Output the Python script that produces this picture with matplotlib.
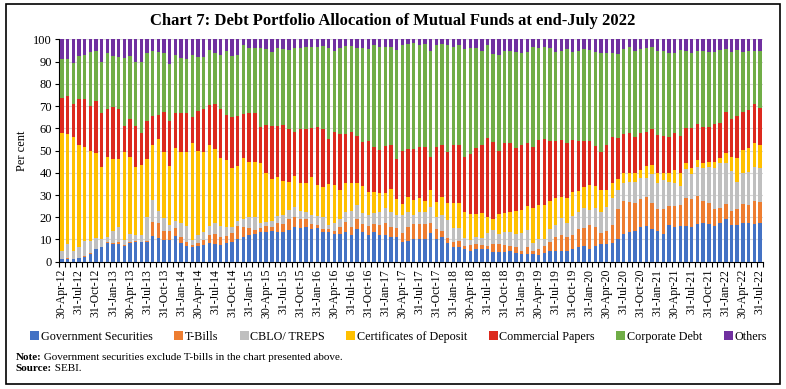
import numpy as np
import pandas as pd
import matplotlib
matplotlib.use("Agg")
import matplotlib.pyplot as plt
from matplotlib.patches import Rectangle

plt.rcParams['font.family'] = ['Liberation Serif', 'DejaVu Serif']

# month-end dates, Apr-2012 .. Jul-2022
dates = pd.date_range('2012-04-30', periods=124, freq='ME')
labels = [d.strftime('%d-%b-%y') for d in dates]

series_names = ['Government Securities', 'T-Bills', 'CBLO/ TREPS', 'Certificates of Deposit',
                'Commercial Papers', 'Corporate Debt', 'Others']
colors = ['#4472C4', '#ED7D31', '#BFBFBF', '#FFC000', '#DC2A1E', '#70AD47', '#7030A0']

# shares in per cent
gsec = [1.0, 1.0, 1.0, 1.5, 2.0, 3.5, 5.5, 6.5, 8.5, 8.0, 8.0, 7.0, 8.5, 9.0, 8.7, 9.0, 11.5, 10.5, 9.7, 9.7,
        11.4, 8.4, 6.9, 6.5, 6.9, 7.7, 8.3, 8.0, 7.5, 8.4, 8.7, 10.2, 11.3, 12.0, 12.5, 13.2, 13.2, 13.7, 13.5, 13.5,
        14.3, 15.5, 15.0, 15.5, 14.5, 15.0, 13.5, 13.5, 12.5, 12.5, 13.5, 12.0, 14.5, 13.5, 12.0, 13.5, 12.0, 12.0, 11.0, 11.0,
        9.0, 9.5, 10.0, 10.0, 10.0, 13.0, 10.0, 11.0, 8.5, 6.7, 6.5, 5.5, 5.0, 5.5, 5.5, 5.5, 4.5, 4.5, 4.5, 5.0,
        4.0, 3.5, 3.5, 3.5, 3.0, 4.0, 5.0, 5.0, 5.0, 5.0, 5.5, 6.5, 7.0, 5.5, 7.0, 8.0, 8.0, 8.5, 10.0, 12.5,
        13.5, 14.0, 15.5, 16.0, 14.5, 14.0, 12.5, 16.5, 15.5, 16.0, 16.0, 15.5, 17.0, 17.5, 17.0, 16.0, 17.5, 19.0, 16.5, 16.5,
        17.5, 17.5, 17.0, 17.5]
tbills = [0.3, 0.5, 0.3, 0.3, 0.5, 0.3, 0.3, 0.3, 0.5, 0.5, 0.7, 0.3, 0.5, 0.5, 0.3, 0.5, 6.5, 7.0, 4.3, 4.3,
          3.6, 2.6, 1.8, 1.0, 1.5, 2.2, 3.7, 4.5, 3.5, 3.3, 4.2, 5.7, 4.2, 3.0, 1.9, 1.8, 2.7, 1.8, 3.9, 3.5,
          4.9, 4.5, 4.0, 3.5, 2.5, 1.5, 1.0, 1.0, 1.5, 3.0, 4.5, 3.5, 4.5, 3.5, 4.0, 3.5, 4.5, 5.5, 4.5, 4.0,
          4.0, 6.0, 7.0, 7.0, 7.0, 4.5, 4.5, 3.0, 2.0, 2.0, 3.0, 1.5, 2.5, 2.5, 2.0, 1.5, 3.5, 3.5, 3.0, 2.0,
          2.5, 1.5, 3.0, 1.5, 2.5, 3.0, 4.0, 6.0, 7.0, 6.0, 6.5, 8.0, 8.0, 11.0, 8.5, 5.0, 6.0, 8.0, 13.5, 15.0,
          13.5, 12.5, 12.5, 13.0, 12.0, 9.5, 11.0, 8.5, 9.5, 9.5, 12.5, 12.5, 12.5, 10.0, 9.5, 7.5, 6.5, 7.0, 6.5, 7.0,
          8.5, 8.0, 10.5, 9.5]
cblo = [3.7, 6.5, 3.7, 4.7, 7.0, 5.7, 4.7, 3.2, 2.0, 5.5, 7.0, 2.4, 3.5, 2.5, 3.0, 10.5, 9.7, 5.3, 5.5, 2.5,
        3.5, 6.3, 7.2, 2.4, 3.6, 3.3, 3.9, 4.9, 4.9, 3.8, 2.6, 2.6, 3.7, 5.3, 5.9, 2.5, 1.8, 3.0, 3.3, 4.2,
        4.2, 4.7, 3.8, 3.5, 4.0, 4.0, 5.7, 2.0, 3.2, 3.5, 4.5, 7.3, 6.5, 4.7, 5.0, 5.0, 6.0, 6.5, 7.0, 6.0,
        8.0, 7.0, 4.0, 5.5, 5.5, 7.2, 5.5, 7.0, 8.2, 6.3, 5.5, 3.5, 2.2, 3.2, 3.0, 5.7, 6.2, 4.4, 6.0, 6.5,
        5.9, 8.0, 7.7, 3.5, 4.5, 3.0, 5.5, 5.5, 7.5, 6.2, 8.5, 8.0, 9.0, 6.7, 8.5, 9.5, 10.7, 12.0, 8.7, 8.0,
        9.0, 9.5, 9.5, 8.5, 12.9, 11.7, 13.2, 11.0, 10.5, 8.5, 13.0, 11.4, 13.2, 14.5, 15.9, 18.5, 20.2, 18.2, 17.9, 12.5,
        13.7, 15.0, 15.2, 15.0]
cds = [53.0, 49.3, 51.0, 46.0, 42.0, 40.3, 38.5, 32.7, 36.0, 32.0, 30.3, 39.8, 34.5, 30.7, 31.5, 26.0, 24.8, 32.2, 30.0, 26.5,
       32.7, 32.2, 33.3, 43.6, 38.0, 36.3, 36.4, 33.1, 30.8, 30.3, 26.7, 24.7, 27.3, 24.4, 24.7, 26.8, 22.1, 18.7, 17.3, 15.0,
       12.3, 13.8, 12.4, 12.7, 16.9, 14.0, 13.5, 18.3, 17.3, 13.2, 12.7, 12.7, 10.0, 12.3, 10.2, 9.5, 8.5, 6.7, 10.4, 7.0,
       5.0, 6.7, 6.7, 6.0, 4.9, 7.5, 7.0, 8.2, 7.6, 11.5, 11.5, 12.0, 11.7, 10.2, 11.2, 7.5, 4.8, 9.0, 8.5, 9.0,
       10.6, 10.2, 10.8, 15.5, 15.5, 15.5, 12.8, 12.0, 9.7, 11.3, 11.0, 9.5, 9.4, 11.3, 10.0, 9.7, 7.5, 7.0, 4.8, 4.2,
       4.0, 4.0, 3.7, 5.5, 4.1, 4.5, 3.3, 4.0, 5.7, 5.7, 2.7, 2.9, 3.0, 2.5, 2.6, 3.0, 2.3, 4.5, 6.1, 10.8,
       10.5, 10.5, 10.5, 10.5]
cps = [15.5, 17.2, 14.8, 20.5, 21.5, 20.2, 23.3, 24.3, 21.5, 23.4, 22.7, 11.5, 17.0, 18.3, 14.5, 17.3, 13.0, 11.0, 18.0, 20.3,
       15.6, 17.5, 17.8, 11.8, 17.6, 19.3, 18.0, 20.5, 21.8, 20.4, 23.1, 22.3, 20.0, 22.3, 22.0, 16.2, 21.8, 23.8, 23.0, 25.1,
       23.8, 20.0, 24.4, 24.4, 22.1, 26.2, 26.1, 20.5, 24.0, 25.2, 22.3, 23.0, 21.0, 20.0, 23.1, 20.2, 19.2, 21.3, 19.6, 18.0,
       23.8, 21.6, 22.8, 23.2, 24.3, 14.7, 24.7, 23.3, 22.9, 26.0, 26.0, 24.7, 27.0, 29.6, 30.8, 35.3, 35.0, 28.6, 31.2, 30.7,
       28.0, 29.3, 28.5, 27.4, 29.2, 29.5, 27.1, 25.9, 25.5, 25.0, 23.2, 22.4, 21.0, 19.9, 18.0, 17.3, 20.3, 20.5, 18.5, 17.7,
       18.0, 16.2, 16.8, 15.5, 16.0, 17.3, 16.5, 16.2, 16.5, 16.8, 16.1, 17.7, 16.3, 16.2, 15.7, 17.0, 15.7, 18.8, 17.0, 18.7,
       17.3, 17.2, 17.8, 16.8]
corp = [17.5, 16.5, 18.7, 19.5, 20.0, 24.3, 22.5, 23.0, 25.5, 23.1, 23.6, 30.6, 28.7, 29.0, 32.0, 30.4, 29.1, 28.3, 26.5, 25.7,
        26.2, 24.6, 24.3, 27.7, 24.4, 23.1, 25.0, 23.0, 24.5, 28.5, 27.2, 27.7, 30.8, 29.1, 29.2, 35.7, 34.2, 33.3, 35.2, 34.5,
        35.6, 37.5, 36.4, 36.8, 36.7, 36.0, 37.2, 40.7, 36.5, 38.6, 39.5, 38.5, 39.5, 42.0, 41.4, 45.7, 46.5, 44.7, 43.9, 49.2,
        47.6, 47.2, 47.7, 45.7, 46.3, 48.1, 45.7, 45.5, 48.2, 44.2, 44.9, 48.3, 47.6, 45.0, 42.5, 41.9, 39.4, 43.0, 41.8, 41.8,
        43.5, 41.5, 41.0, 45.0, 41.3, 41.4, 41.6, 40.1, 40.3, 42.0, 39.8, 40.6, 41.1, 40.8, 42.5, 44.5, 41.5, 37.7, 37.9, 38.3,
        38.4, 38.8, 37.5, 37.5, 37.2, 38.0, 38.5, 37.8, 36.3, 38.7, 34.7, 33.7, 33.0, 34.3, 33.8, 32.5, 33.0, 28.2, 30.5, 29.7,
        27.0, 26.8, 24.0, 25.7]
others = [9.0, 9.0, 10.5, 7.5, 7.0, 5.7, 5.2, 10.0, 6.0, 7.5, 7.7, 8.4, 7.3, 10.0, 10.0, 6.3, 5.4, 5.7, 6.0, 11.0,
          7.0, 8.4, 8.7, 7.0, 8.0, 8.1, 4.7, 6.0, 7.0, 5.3, 7.5, 6.8, 2.7, 3.9, 3.8, 3.8, 4.2, 5.7, 3.8, 4.2,
          4.9, 4.0, 4.0, 3.6, 3.3, 3.3, 3.0, 4.0, 5.0, 4.0, 3.0, 3.0, 4.0, 4.0, 4.3, 2.6, 3.3, 3.3, 3.6, 4.8,
          2.6, 2.0, 1.8, 2.6, 2.0, 5.0, 2.6, 2.0, 2.6, 3.3, 2.6, 4.5, 4.0, 4.0, 5.0, 2.6, 6.6, 7.0, 5.0, 5.0,
          5.5, 6.0, 5.5, 3.6, 4.0, 3.6, 4.0, 5.5, 5.0, 4.5, 5.5, 5.0, 4.5, 4.8, 5.5, 6.0, 6.0, 6.3, 6.6, 4.3,
          3.6, 5.0, 4.5, 4.0, 3.3, 5.0, 5.0, 6.0, 6.0, 4.8, 5.0, 6.3, 5.0, 5.0, 5.5, 5.5, 4.8, 4.3, 5.5, 4.8,
          5.5, 5.0, 5.0, 5.0]

data = np.array([gsec, tbills, cblo, cds, cps, corp, others])
x = np.arange(len(labels))

fig = plt.figure(figsize=(7.86, 3.89), dpi=100)
ax = fig.add_axes([0.0751, 0.3272, 0.8953, 0.5713])

bottom = np.zeros(len(x))
handles = []
for vals, name, c in zip(data, series_names, colors):
    h = ax.bar(x, vals, bottom=bottom, width=0.6, color=c, label=name, zorder=3)
    handles.append(h)
    bottom += vals

ax.set_xlim(-0.5, len(x) - 0.5)
ax.set_ylim(0, 100)
ax.set_yticks(range(0, 101, 10))
ax.yaxis.grid(True, color='#D9D9D9', lw=0.8, zorder=0)
ax.set_axisbelow(True)
ax.tick_params(axis='y', length=3, labelsize=9, pad=2)

ax.set_xticks(x[::3])
ax.set_xticklabels(labels[::3], rotation=90, fontsize=8.5)
ax.set_xticks(np.arange(-0.5, len(x), 1), minor=True)
ax.tick_params(axis='x', which='major', length=0, pad=5)
ax.tick_params(axis='x', which='minor', length=3.5, width=0.8)

for s in ['top', 'right']:
    ax.spines[s].set_visible(False)
ax.spines['left'].set_linewidth(0.8)
ax.spines['bottom'].set_linewidth(0.8)
ax.set_ylabel('Per cent', fontsize=9, labelpad=4)

fig.text(0.5, 0.945, 'Chart 7: Debt Portfolio Allocation of Mutual Funds at end-July 2022',
         ha='center', va='center', fontsize=12, fontweight='bold')

fig.legend(handles=handles, loc='center', bbox_to_anchor=(0.507, 0.134), ncol=7, frameon=False,
           fontsize=8.7, handlelength=0.75, handleheight=0.75, handletextpad=0.15, columnspacing=1.75)

# note and source lines with bold prefixes
renderer = fig.canvas.get_renderer()
for ypos, head, rest in [(0.081, 'Note:', ' Government securities exclude T-bills in the chart presented above.'),
                         (0.052, 'Source:', ' SEBI.')]:
    t = fig.text(0.02, ypos, head, fontsize=8, fontweight='bold', va='center')
    bb = t.get_window_extent(renderer=renderer)
    fig.text(bb.x1 / fig.bbox.width, ypos, rest, fontsize=8, va='center')

fig.patches.append(Rectangle((0.008, 0.013), 0.984, 0.978, transform=fig.transFigure,
                             fill=False, edgecolor='black', lw=1.2))

fig.savefig('out.png', dpi=100)
